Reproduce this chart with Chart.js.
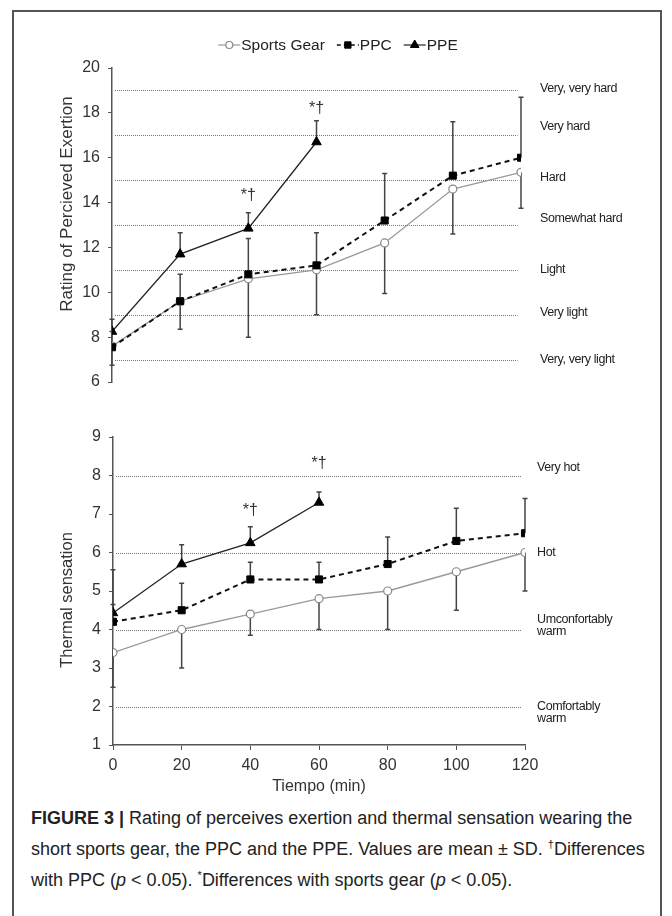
<!DOCTYPE html>
<html>
<head>
<meta charset="utf-8">
<script src="https://cdn.jsdelivr.net/npm/chart.js@4.4.1/dist/chart.umd.min.js"></script>
<style>
  body { margin: 0; background: #fff; }
  #page { position: relative; width: 672px; height: 916px; overflow: hidden; }
  #frame { position: absolute; left: 12px; top: 10px; width: 646px; height: 920px; border: 2px solid #555; }
  canvas { position: absolute; left: 0; }
  #rpeChart { top: 0; }
  #tsChart { top: 400px; }
  #caption {
    position: absolute; left: 31px; top: 803px; width: 630px;
    font-family: "Liberation Sans", Arial, sans-serif; font-size: 18px; line-height: 31px; color: #222;
    white-space: nowrap;
  }
  #caption b { font-weight: bold; }
  #caption sup { font-size: 11px; vertical-align: 7px; line-height: 0; }
</style>
</head>
<body>
<div id="page">
  <div id="frame"></div>
  <canvas id="rpeChart" width="672" height="400"></canvas>
  <canvas id="tsChart" width="672" height="400"></canvas>
  <div id="caption"><b>FIGURE 3 |</b> Rating of perceives exertion and thermal sensation wearing the<br>short sports gear, the PPC and the PPE. Values are mean &plusmn; SD. <sup>&dagger;</sup>Differences<br>with PPC (<i>p</i> &lt; 0.05). <sup>*</sup>Differences with sports gear (<i>p</i> &lt; 0.05).</div>
</div>
<script>
// time points (min)
const times = [0, 20, 40, 60, 80, 100, 120];
const ppeTimes = [0, 20, 40, 60];

// Rating of perceived exertion, mean and SD
const rpeSports = [7.6, 9.6, 10.6, 11.0, 12.2, 14.6, 15.35];
const rpeSportsSD = [0.85, 1.25, 2.6, 2.0, 2.25, 2.0, 1.6];
const rpePpc = [7.55, 9.6, 10.8, 11.2, 13.2, 15.2, 16.0];
const rpePpcSD = [0.7, 1.2, 1.6, 1.45, 2.1, 2.4, 2.7];
const rpePpe = [8.25, 11.7, 12.85, 16.7];
const rpePpeSD = [0.55, 0.95, 0.7, 0.95];

const rpeLevels = [19, 17, 15, 13, 11, 9, 7];
const rpeLevelLabels = [["Very, very hard"], ["Very hard"], ["Hard"], ["Somewhat hard"], ["Light"], ["Very light"], ["Very, very light"]];
const rpeLabelAt = [19.1, 17.4, 15.1, 13.3, 11.0, 9.1, 7.0];
const rpeMarkTimes = [40, 60];
const rpeMarkAt = [14.3, 18.2];

// Thermal sensation, mean and SD
const tsSports = [3.4, 4.0, 4.4, 4.8, 5.0, 5.5, 6.0];
const tsSportsSD = [0.9, 1.0, 0.55, 0.8, 1.0, 1.0, 1.0];
const tsPpc = [4.2, 4.5, 5.3, 5.3, 5.7, 6.3, 6.5];
const tsPpcSD = [0.45, 0.7, 0.45, 0.45, 0.7, 0.85, 0.9];
const tsPpe = [4.43, 5.7, 6.25, 7.3];
const tsPpeSD = [1.12, 0.5, 0.42, 0.27];

const tsLevels = [8, 6, 4, 2];
const tsLevelLabels = [["Very hot"], ["Hot"], ["Umconfortably", "warm"], ["Comfortably", "warm"]];
const tsLabelAt = [8.2, 6.0, 4.1, 1.85];
const tsMarkTimes = [40, 60];
const tsMarkAt = [7.1, 8.3];

const FONT = "'Liberation Sans', Arial, sans-serif";
const TEXT = "#333";

function pts(xs, ys) {
  return xs.map((x, i) => ({ x, y: ys[i] }));
}

function makeDatasets(sports, sportsSD, ppc, ppcSD, ppe, ppeSD) {
  return [
    {
      label: "Sports Gear", data: pts(times, sports), sd: sportsSD, dir: -1, order: 3,
      borderColor: "#999", borderWidth: 1.3, pointStyle: "circle", pointRadius: 4,
      pointBackgroundColor: "#fff", pointBorderColor: "#888", pointBorderWidth: 1.2,
    },
    {
      label: "PPC", data: pts(times, ppc), sd: ppcSD, dir: 1, order: 2,
      borderColor: "#111", borderWidth: 2, borderDash: [5, 4], pointStyle: "rect", pointRadius: 5,
      pointBackgroundColor: "#000", pointBorderColor: "#000", pointBorderWidth: 1,
    },
    {
      label: "PPE", data: pts(ppeTimes, ppe), sd: ppeSD, dir: 1, order: 1,
      borderColor: "#222", borderWidth: 1.3, pointStyle: "triangle", pointRadius: 5.5,
      pointBackgroundColor: "#000", pointBorderColor: "#000", pointBorderWidth: 1,
    },
  ];
}

// dotted reference lines + category names on the right, rotated y title
const refLines = {
  id: "refLines",
  beforeDatasetsDraw(chart, args, opts) {
    const { ctx, chartArea } = chart;
    const x = chart.scales.x, y = chart.scales.y;
    ctx.save();
    ctx.strokeStyle = "#777";
    ctx.lineWidth = 1;
    ctx.setLineDash([1, 1]);
    opts.levels.forEach((v) => {
      const py = Math.round(y.getPixelForValue(v)) + 0.5;
      ctx.beginPath();
      ctx.moveTo(chartArea.left + 3, py);
      ctx.lineTo(x.getPixelForValue(119), py);
      ctx.stroke();
    });
    ctx.setLineDash([]);
    ctx.fillStyle = "#222";
    ctx.font = "12.5px " + FONT;
    ctx.letterSpacing = "-0.4px";
    ctx.textBaseline = "middle";
    opts.labels.forEach((lines, i) => {
      const py = y.getPixelForValue(opts.labelAt[i]);
      lines.forEach((t, j) => {
        ctx.fillText(t, opts.labelX, py + (j - (lines.length - 1) / 2) * 12);
      });
    });
    ctx.letterSpacing = "0px";

    // y axis title
    ctx.fillStyle = TEXT;
    ctx.font = opts.titleSize + "px " + FONT;
    ctx.textAlign = "center";
    ctx.textBaseline = "middle";
    ctx.translate(opts.titleX, opts.titleY);
    ctx.rotate(-Math.PI / 2);
    ctx.fillText(opts.title, 0, 0);
    ctx.restore();
  },
};

// one-sided SD bars
const errorBars = {
  id: "errorBars",
  beforeDatasetsDraw(chart) {
    const { ctx } = chart;
    const x = chart.scales.x, y = chart.scales.y;
    ctx.save();
    ctx.strokeStyle = "#444";
    ctx.lineWidth = 1.5;
    chart.data.datasets.forEach((ds) => {
      ds.data.forEach((p, i) => {
        const px = x.getPixelForValue(p.x);
        const y0 = y.getPixelForValue(p.y);
        const y1 = y.getPixelForValue(p.y + ds.dir * ds.sd[i]);
        ctx.beginPath();
        ctx.moveTo(px, y0);
        ctx.lineTo(px, y1);
        ctx.moveTo(px - 2.5, y1);
        ctx.lineTo(px + 2.5, y1);
        ctx.stroke();
      });
    });
    ctx.restore();
  },
  afterDatasetsDraw(chart, args, opts) {
    const { ctx } = chart;
    const x = chart.scales.x, y = chart.scales.y;
    ctx.save();
    ctx.fillStyle = "#333";
    ctx.font = "16px " + FONT;
    ctx.textAlign = "center";
    ctx.textBaseline = "middle";
    opts.markTimes.forEach((t, i) => {
      ctx.fillText("*\u2020", x.getPixelForValue(t), y.getPixelForValue(opts.markAt[i]));
    });
    ctx.restore();
  },
};

// legend drawn as line + marker, like the figure
const lineLegend = {
  id: "lineLegend",
  afterDraw(chart, args, opts) {
    if (!opts.show) return;
    const { ctx } = chart;
    const ds = chart.data.datasets;
    ctx.save();
    ctx.font = "15.5px " + FONT;
    ctx.textBaseline = "middle";
    const iconW = 22, gap = 1, spacing = 12;
    const widths = ds.map((d) => ctx.measureText(d.label).width);
    const total = widths.reduce((s, w) => s + iconW + gap + w, 0) + spacing * (ds.length - 1);
    let cx = chart.width / 2 - total / 2 + 2;
    const cy = opts.y;
    ds.forEach((d, i) => {
      ctx.strokeStyle = d.borderColor;
      ctx.lineWidth = d.borderWidth > 1.5 ? 1.6 : 1.2;
      ctx.setLineDash(d.borderDash ? [4, 3] : []);
      ctx.beginPath();
      ctx.moveTo(cx, cy);
      ctx.lineTo(cx + iconW, cy);
      ctx.stroke();
      ctx.setLineDash([]);
      ctx.fillStyle = d.pointBackgroundColor;
      ctx.strokeStyle = d.pointBorderColor;
      ctx.lineWidth = d.pointBorderWidth;
      Chart.helpers.drawPoint(ctx, {
        pointStyle: d.pointStyle, radius: d.pointRadius - 0.5, borderWidth: d.pointBorderWidth,
      }, cx + iconW / 2, cy);
      ctx.fillStyle = "#222";
      ctx.fillText(d.label, cx + iconW + gap, cy + 1);
      cx += iconW + gap + widths[i] + spacing;
    });
    ctx.restore();
  },
};

function axisOptions(yMin, yMax, yWidth, showX) {
  return {
    x: {
      type: "linear", min: 0, max: 120, display: showX,
      ticks: { stepSize: 20, color: TEXT, font: { family: FONT, size: 16 }, padding: 6 },
      grid: { display: true, drawOnChartArea: false, drawTicks: true, tickLength: 5, color: "#555" },
      border: { display: true, color: "#555", width: 1.5 },
      title: { display: true, text: "Tiempo (min)", color: TEXT, font: { family: FONT, size: 16 }, padding: { top: 2, bottom: 4 } },
      afterFit(scale) { if (showX) scale.height = 55; },
    },
    y: {
      min: yMin, max: yMax,
      ticks: { stepSize: yMax - yMin > 10 ? 2 : 1, color: TEXT, font: { family: FONT, size: 16 }, padding: 8 },
      grid: { display: true, drawOnChartArea: false, drawTicks: true, tickLength: 4, color: "#555" },
      border: { display: true, color: "#555", width: 1.5 },
      afterFit(scale) { scale.width = yWidth; },
    },
  };
}

function baseOptions(padding, scales, plugins) {
  return {
    responsive: false,
    animation: false,
    devicePixelRatio: 1,
    layout: { padding },
    scales,
    plugins: Object.assign({ legend: { display: false }, tooltip: { enabled: false } }, plugins),
  };
}

const rpeDatasets = makeDatasets(rpeSports, rpeSportsSD, rpePpc, rpePpcSD, rpePpe, rpePpeSD);
new Chart(document.getElementById("rpeChart"), {
  type: "line",
  data: { datasets: rpeDatasets },
  options: baseOptions(
    { left: 50, top: 68, right: 151, bottom: 18 },
    axisOptions(6, 20, 62, false),
    {
      refLines: {
        levels: rpeLevels, labels: rpeLevelLabels, labelAt: rpeLabelAt, labelX: 540,
        title: "Rating of Percieved Exertion", titleSize: 17, titleX: 67, titleY: 204,
      },
      errorBars: { markTimes: rpeMarkTimes, markAt: rpeMarkAt },
      lineLegend: { show: true, y: 45 },
    }
  ),
  plugins: [refLines, errorBars, lineLegend],
});

const tsDatasets = makeDatasets(tsSports, tsSportsSD, tsPpc, tsPpcSD, tsPpe, tsPpeSD);
new Chart(document.getElementById("tsChart"), {
  type: "line",
  data: { datasets: tsDatasets },
  options: baseOptions(
    { left: 52, top: 37, right: 147, bottom: 0 },
    axisOptions(1, 9, 61, true),
    {
      refLines: {
        levels: tsLevels, labels: tsLevelLabels, labelAt: tsLabelAt, labelX: 537,
        title: "Thermal sensation", titleSize: 16.5, titleX: 67, titleY: 200,
      },
      errorBars: { markTimes: tsMarkTimes, markAt: tsMarkAt },
      lineLegend: { show: false },
    }
  ),
  plugins: [refLines, errorBars, lineLegend],
});
</script>
</body>
</html>
